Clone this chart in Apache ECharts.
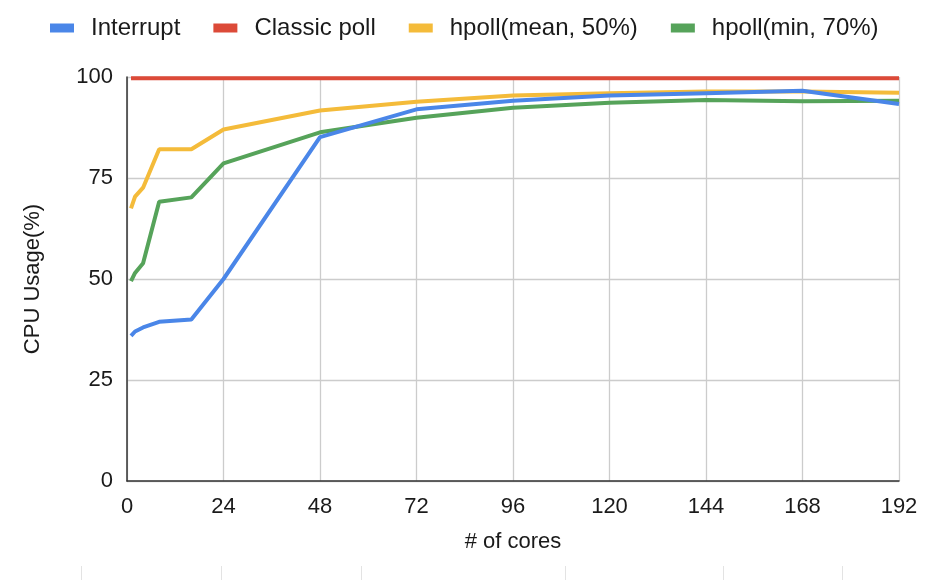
<!DOCTYPE html>
<html>
<head>
<meta charset="utf-8">
<script src="https://cdn.jsdelivr.net/npm/echarts@6/dist/echarts.min.js"></script>
<style>
html,body{margin:0;padding:0;background:#fff;}
#chart{width:930px;height:580px;}
</style>
</head>
<body>
<div id="chart"></div>
<script>
var cores = [1, 2, 4, 8, 16, 24, 48, 72, 96, 120, 144, 168, 192];
var interrupt = [35.9, 37.0, 38.0, 39.4, 40.0, 50.0, 85.1, 92.0, 94.1, 95.4, 96.0, 96.6, 93.3];
var classicPoll = [99.7, 99.7, 99.7, 99.7, 99.7, 99.7, 99.7, 99.7, 99.7, 99.7, 99.7, 99.7, 99.7];
var hpollMean = [67.5, 70.4, 72.6, 82.1, 82.1, 87.0, 91.7, 93.9, 95.4, 96.0, 96.4, 96.4, 96.1];
var hpollMin = [49.5, 51.5, 53.9, 69.1, 70.2, 78.6, 86.3, 89.9, 92.4, 93.6, 94.3, 94.0, 94.1];
var seriesNames = ['Interrupt', 'Classic poll', 'hpoll(mean, 50%)', 'hpoll(min, 70%)'];
var xTicks = [0, 24, 48, 72, 96, 120, 144, 168, 192];
var yTicks = [0, 25, 50, 75, 100];

function pairs(vals) {
  return cores.map(function (c, i) { return [c, vals[i]]; });
}

var colors = ['#4a86e8', '#dc4a38', '#f4bb3a', '#56a35a'];
var font = 'Liberation Sans, Arial, sans-serif';
var textColor = '#1a1a1a';

var chart = echarts.init(document.getElementById('chart'), null, {renderer: 'canvas'});
var allVals = [interrupt, classicPoll, hpollMean, hpollMin];
var cellLines = [81, 221, 361, 565, 723, 842].map(function (x) {
  return {type: 'line', shape: {x1: x + 0.5, y1: 566, x2: x + 0.5, y2: 580}, style: {stroke: '#e3e3e3', lineWidth: 1}, silent: true};
});

chart.setOption({
  animation: false,
  color: colors,
  textStyle: {fontFamily: font},
  legend: {
    left: 50, top: 16, padding: 0,
    itemWidth: 24, itemHeight: 9, itemGap: 33,
    icon: 'rect',
    data: seriesNames,
    textStyle: {fontSize: 24, color: textColor, fontFamily: font, padding: [0, 0, 0, 12]}
  },
  grid: {left: 127, right: 31, top: 77, bottom: 99},
  xAxis: {
    type: 'value', min: xTicks[0], max: xTicks[xTicks.length - 1], interval: 24,
    name: '# of cores', nameLocation: 'middle', nameGap: 50,
    nameTextStyle: {fontSize: 22, color: textColor, fontFamily: font},
    axisLine: {show: true, lineStyle: {color: '#333', width: 1.5}},
    axisTick: {show: false},
    axisLabel: {fontSize: 22, color: textColor, margin: 15, fontFamily: font},
    splitLine: {show: true, lineStyle: {color: '#cccccc', width: 1.3}}
  },
  yAxis: {
    type: 'value', min: yTicks[0], max: yTicks[yTicks.length - 1], interval: 25,
    name: 'CPU Usage(%)', nameLocation: 'middle', nameGap: 83, nameRotate: 90,
    nameTextStyle: {fontSize: 22, color: textColor, fontFamily: font},
    axisLine: {show: true, lineStyle: {color: '#333', width: 1.5}},
    axisTick: {show: false},
    axisLabel: {fontSize: 22, color: textColor, margin: 14, fontFamily: font},
    splitLine: {show: true, lineStyle: {color: '#cccccc', width: 1.3}}
  },
  graphic: cellLines,
  series: seriesNames.map(function (n, i) {
    return {
      name: n, type: 'line', data: pairs(allVals[i]),
      showSymbol: false, symbol: 'none',
      lineStyle: {width: 4, color: colors[i]},
      z: i === 1 ? 1 : 5 - i
    };
  })
});
</script>
</body>
</html>
